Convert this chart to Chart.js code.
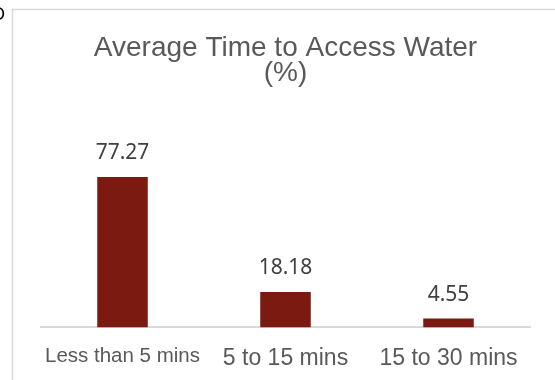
<!DOCTYPE html>
<html>
<head>
<meta charset="utf-8">
<script src="https://cdn.jsdelivr.net/npm/chart.js@4.4.1/dist/chart.umd.min.js"></script>
<style>
  html, body { margin: 0; padding: 0; background: #ffffff; }
  #wrap { width: 555px; height: 380px; position: relative; }
</style>
</head>
<body>
<div id="wrap"><canvas id="chart" width="555" height="380"></canvas></div>
<script>
// Categories and shares (%) of households by time needed to reach water
const categories = ['Less than 5 mins', '5 to 15 mins', '15 to 30 mins'];
const shares = [77.27, 18.18, 4.55];
const titleLines = ['Average Time to Access Water', '(%)'];

// White page, light grey frame and the clipped letter at the corner
const framePlugin = {
  id: 'frame',
  beforeDraw(chart) {
    const ctx = chart.ctx;
    ctx.save();
    ctx.fillStyle = '#ffffff';
    ctx.fillRect(0, 0, chart.width, chart.height);
    ctx.strokeStyle = '#d9d9d9';
    ctx.lineWidth = 1.5;
    ctx.beginPath();
    ctx.moveTo(12.5, chart.height);
    ctx.lineTo(12.5, 9.5);
    ctx.lineTo(chart.width, 9.5);
    ctx.stroke();
    ctx.fillStyle = '#000000';
    ctx.font = '18px "Liberation Sans"';
    ctx.textBaseline = 'alphabetic';
    ctx.fillText('D', -8, 20);
    ctx.restore();
  }
};

// Value printed above each bar
const valueLabels = {
  id: 'valueLabels',
  afterDatasetsDraw(chart) {
    const ctx = chart.ctx;
    const meta = chart.getDatasetMeta(0);
    ctx.save();
    ctx.font = '21px "Noto Sans"';
    ctx.fillStyle = '#404040';
    ctx.textAlign = 'center';
    ctx.textBaseline = 'alphabetic';
    meta.data.forEach((bar, i) => {
      ctx.fillText(shares[i].toFixed(2), bar.x, bar.y - 18);
    });
    ctx.restore();
  }
};

new Chart(document.getElementById('chart'), {
  type: 'bar',
  data: {
    labels: categories,
    datasets: [{
      data: shares,
      backgroundColor: '#7b1a10',
      borderWidth: 0,
      barPercentage: 0.31,
      categoryPercentage: 1
    }]
  },
  options: {
    responsive: false,
    devicePixelRatio: 1,
    animation: false,
    layout: { padding: { left: 41, right: 25, top: 0, bottom: -9 } },
    plugins: {
      legend: { display: false },
      tooltip: { enabled: false },
      title: {
        display: true,
        text: titleLines,
        color: '#595959',
        font: { family: '"Liberation Sans"', size: 28, weight: 'normal', lineHeight: 0.9 },
        padding: { top: 35.6, bottom: 46.7 }
      }
    },
    scales: {
      x: {
        grid: { display: false, drawTicks: false },
        border: { display: true, color: '#d9d9d9', width: 2 },
        ticks: {
          autoSkip: false,
          maxRotation: 0,
          padding: 17,
          color: '#595959',
          font: (ctx) => ({ family: '"Liberation Sans"', size: ctx.index === 0 ? 20.5 : 23 })
        }
      },
      y: {
        display: false,
        min: 0,
        max: 100
      }
    }
  },
  plugins: [framePlugin, valueLabels]
});
</script>
</body>
</html>
